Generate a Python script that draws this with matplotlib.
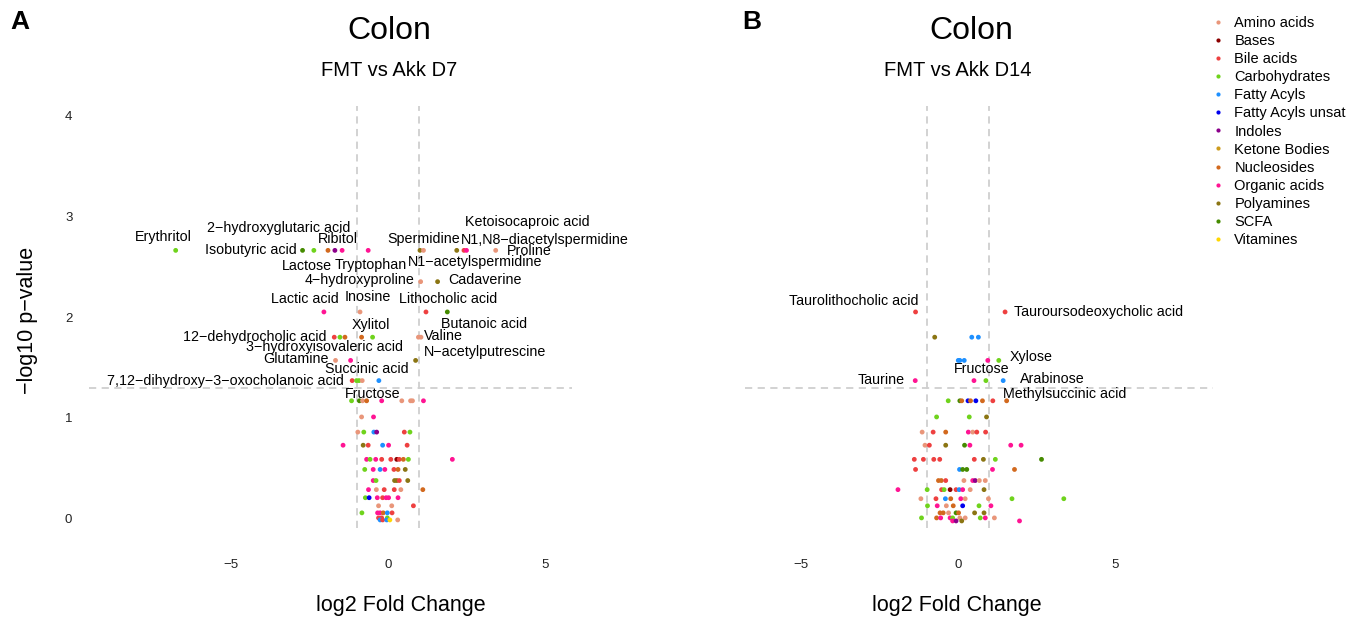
import matplotlib
matplotlib.use('Agg')
from matplotlib import pyplot as plt
from matplotlib.lines import Line2D

plt.rcParams['font.family'] = ['Liberation Sans', 'DejaVu Sans']

# metabolite classes and colours
classes = ['Amino acids', 'Bases', 'Bile acids', 'Carbohydrates', 'Fatty Acyls',
           'Fatty Acyls unsat', 'Indoles', 'Ketone Bodies', 'Nucleosides',
           'Organic acids', 'Polyamines', 'SCFA', 'Vitamines']
codes = ['AA', 'BA', 'BI', 'CA', 'FA', 'FU', 'IN', 'KB', 'NU', 'OA', 'PA', 'SC', 'VI']
colors = ['#E9967A', '#8B0000', '#EE4040', '#6FD31C', '#1E90FF', '#0000EE', '#8B008B',
          '#CD9B1D', '#D2691E', '#FF1493', '#8B7513', '#458B00', '#FFD700']
col = dict(zip(codes, colors))

# ---- panel A : FMT vs Akk D7 (log2FC, -log10 p, class)
a_x = [-6.76, -2.72, -2.36, -1.91, -1.69, -1.46, -0.63, 1.02, 1.13, 2.19, 2.42, 2.50, 3.43,
       1.04, 1.58,
       -2.04, -0.89, 1.21, 1.89,
       -1.71, -1.53, -1.37, -0.84, -0.49, 0.97, 1.05,
       -1.67, -1.19, 0.88,
       -1.14, -1.00, -0.92, -0.82, -0.29,
       -1.16, -0.91, -0.81, -0.68, -0.20, 0.44, 0.72, 0.78, 1.13,
       -0.84, -0.46,
       -0.96, -0.77, -0.45, -0.36, 0.52, 0.70,
       -1.43, -0.79, -0.63, -0.17, 0.02, 0.61,
       -0.68, -0.57, -0.39, -0.20, 0.09, 0.28, 0.36, 0.49, 0.65, 2.05,
       -0.74, -0.47, -0.25, -0.10, 0.19, 0.32, 0.55,
       -0.47, -0.38, 0.21, 0.28, 0.36, 0.63,
       -0.62, -0.37, -0.12, 0.20, 0.41, 1.11,
       -0.72, -0.60, -0.34, -0.17, -0.06, 0.02, 0.32,
       -0.30, 0.12, 0.81,
       -0.83, -0.33, -0.25, -0.15, -0.02, 0.13,
       -0.30, -0.20, -0.02,
       -0.25, -0.17, -0.04, 0.06, 0.31]
a_y = [2.66] * 13 + [2.35] * 2 + [2.05] * 4 + [1.80] * 7 + [1.57] * 3 + [1.37] * 5 + \
      [1.17] * 9 + [1.01] * 2 + [0.86] * 6 + [0.73] * 6 + [0.59] * 10 + [0.49] * 7 + \
      [0.38] * 6 + [0.29] * 6 + [0.21] * 7 + [0.13] * 3 + [0.06] * 6 + [0.01] * 3 + [-0.01] * 5
a_cls = ['CA', 'SC', 'CA', 'NU', 'IN', 'OA', 'OA', 'PA', 'AA', 'PA', 'BI', 'OA', 'AA',
         'AA', 'PA',
         'OA', 'AA', 'BI', 'SC',
         'BI', 'CA', 'NU', 'NU', 'CA', 'AA', 'AA',
         'AA', 'OA', 'PA',
         'BI', 'CA', 'CA', 'AA', 'FA',
         'CA', 'SC', 'AA', 'NU', 'OA', 'AA', 'AA', 'AA', 'OA',
         'AA', 'OA',
         'AA', 'CA', 'FA', 'IN', 'BI', 'CA',
         'OA', 'PA', 'BI', 'FA', 'OA', 'BI',
         'OA', 'CA', 'OA', 'BI', 'BI', 'BA', 'BI', 'NU', 'CA', 'OA',
         'CA', 'OA', 'FA', 'OA', 'BI', 'NU', 'PA',
         'OA', 'CA', 'PA', 'PA', 'BI', 'PA',
         'OA', 'AA', 'BI', 'BI', 'AA', 'NU',
         'CA', 'FU', 'OA', 'BI', 'OA', 'OA', 'OA',
         'AA', 'AA', 'BI',
         'CA', 'OA', 'OA', 'NU', 'FA', 'BI',
         'BI', 'BI', 'CA',
         'FA', 'BI', 'FA', 'VI', 'AA']

a_labels = ['Erythritol', '2\u2212hydroxyglutaric acid', 'Ribitol', 'Isobutyric acid',
            'Lactose', 'Tryptophan', 'Spermidine', 'Ketoisocaproic acid',
            'N1,N8\u2212diacetylspermidine', 'Proline', 'N1\u2212acetylspermidine',
            '4\u2212hydroxyproline', 'Cadaverine', 'Lactic acid', 'Inosine',
            'Lithocholic acid', 'Butanoic acid', 'Xylitol', '12\u2212dehydrocholic acid',
            'Valine', '3\u2212hydroxyisovaleric acid', 'N\u2212acetylputrescine', 'Glutamine',
            'Succinic acid', '7,12\u2212dihydroxy\u22123\u2212oxocholanoic acid', 'Fructose']
# where the repelled labels ended up (data units)
a_lab_pos = [(-7.16, 2.79), (-3.49, 2.88), (-1.61, 2.77), (-4.37, 2.66), (-2.57, 2.51),
             (-0.55, 2.52), (1.15, 2.77), (4.43, 2.94), (5.0, 2.76), (4.49, 2.65),
             (2.77, 2.54), (-0.89, 2.37), (3.09, 2.37), (-2.64, 2.18), (-0.63, 2.20),
             (1.92, 2.18), (3.07, 1.93), (-0.54, 1.92), (-4.24, 1.80), (1.78, 1.81),
             (-2.01, 1.70), (3.09, 1.65), (-2.94, 1.58), (-0.66, 1.48), (-5.19, 1.37),
             (-0.49, 1.24)]

# ---- panel B : FMT vs Akk D14
b_x = [-1.35, 1.50,
       -0.74, 0.44, 0.65,
       0.01, 0.06, 0.20, 0.95, 1.30,
       -1.36, 0.51, 0.89, 1.44,
       -0.31, 0.06, 0.12, 0.32, 0.40, 0.57, 0.78, 1.11, 1.55,
       -0.68, 0.36, 0.91,
       -1.14, -0.79, -0.39, 0.33, 0.47, 0.60, 0.88,
       -1.05, -0.91, -0.39, 0.21, 0.38, 1.68, 2.01,
       -1.39, -1.10, -0.77, -0.58, 0.52, 0.81, 1.19, 2.66,
       -1.35, 0.05, 0.15, 0.28, 1.10, 1.80,
       -0.62, -0.53, -0.39, 0.19, 0.47, 0.55, 0.68, 0.87,
       -1.91, -0.98, -0.52, -0.44, -0.25, -0.06, 0.04, 0.15, 0.39, 0.83,
       -1.18, -0.70, -0.40, -0.23, 0.09, 0.23, 0.97, 1.72, 3.37,
       -0.97, -0.66, -0.37, -0.15, 0.15, 0.67, 1.05,
       -0.57, -0.47, -0.30, -0.06, 0.02, 0.53, 0.83,
       -1.16, -0.68, -0.55, -0.25, -0.17, 0.06, 0.23, 0.71, 0.87, 1.16,
       -0.17, -0.06, 0.12, 1.96]
b_y = [2.05] * 2 + [1.80] * 3 + [1.57] * 5 + [1.37] * 4 + [1.17] * 9 + [1.01] * 3 + \
      [0.86] * 7 + [0.73] * 7 + [0.59] * 8 + [0.49] * 6 + [0.38] * 8 + [0.29] * 10 + \
      [0.20] * 9 + [0.13] * 7 + [0.06] * 7 + [0.01] * 10 + [-0.02] * 4
b_cls = ['BI', 'BI',
         'PA', 'FA', 'FA',
         'FA', 'FA', 'FA', 'OA', 'CA',
         'OA', 'OA', 'CA', 'FA',
         'CA', 'SC', 'NU', 'FU', 'NU', 'FU', 'NU', 'BI', 'NU',
         'CA', 'CA', 'PA',
         'AA', 'BI', 'NU', 'OA', 'AA', 'BI', 'BI',
         'AA', 'BI', 'PA', 'SC', 'OA', 'OA', 'OA',
         'BI', 'BI', 'BI', 'BI', 'BI', 'PA', 'CA', 'SC',
         'BI', 'FA', 'SC', 'SC', 'OA', 'NU',
         'NU', 'NU', 'BI', 'AA', 'OA', 'IN', 'AA', 'AA',
         'OA', 'CA', 'BI', 'CA', 'BA', 'BI', 'FA', 'OA', 'AA', 'PA',
         'AA', 'BI', 'FA', 'NU', 'OA', 'AA', 'AA', 'CA', 'CA',
         'CA', 'OA', 'AA', 'NU', 'FU', 'CA', 'OA',
         'NU', 'NU', 'AA', 'SC', 'NU', 'PA', 'PA',
         'CA', 'NU', 'OA', 'OA', 'CA', 'AA', 'AA', 'CA', 'OA', 'AA',
         'OA', 'IN', 'PA', 'OA']

b_labels = ['Taurolithocholic acid', 'Tauroursodeoxycholic acid', 'Xylose', 'Fructose',
            'Taurine', 'Arabinose', 'Methylsuccinic acid']
b_lab_pos = [(-3.33, 2.16), (4.47, 2.05), (2.32, 1.60), (0.75, 1.48),
             (-2.43, 1.38), (3.02, 1.39), (3.41, 1.24)]

W, H = 1359, 623
fig = plt.figure(figsize=(W / 100, H / 100), dpi=100)


def panel(rect, xs, ys, cl, labs, lpos, xlim, show_y):
    ax = fig.add_axes(rect)
    ax.axvline(-1, color='#CFCFCF', lw=1.3, ls=(0, (4, 3)), zorder=1)
    ax.axvline(1, color='#CFCFCF', lw=1.3, ls=(0, (4, 3)), zorder=1)
    ax.axhline(1.30103, color='#CFCFCF', lw=1.3, ls=(0, (4, 3)), zorder=1)
    ax.scatter(xs, ys, c=[col[c] for c in cl], s=12, linewidths=0, zorder=3)
    for t, (tx, ty) in zip(labs, lpos):
        ax.text(tx, ty, t, ha='center', va='center', fontsize=10.3, zorder=4)
    ax.set_xlim(*xlim)
    ax.set_ylim(-0.09, 4.09)
    ax.set_xticks([-5, 0, 5])
    ax.set_yticks([0, 1, 2, 3, 4])
    ax.tick_params(length=0, labelsize=9.5, colors='#222222')
    ax.tick_params(axis='x', pad=22)
    ax.tick_params(axis='y', pad=12)
    if not show_y:
        ax.set_yticklabels([])
    for s in ax.spines.values():
        s.set_visible(False)
    return ax


top = 1 - 528 / H
hgt = 422 / H
panel([89 / W, top, 483 / W, hgt], a_x, a_y, a_cls, a_labels, a_lab_pos, (-9.52, 5.86), True)
panel([745 / W, top, 468 / W, hgt], b_x, b_y, b_cls, b_labels, b_lab_pos, (-6.78, 8.12), False)

# titles and axis titles
fig.text(10 / W, 1 - 22 / H, 'A', fontsize=19, fontweight='bold', ha='left', va='center')
fig.text(742 / W, 1 - 22 / H, 'B', fontsize=19, fontweight='bold', ha='left', va='center')
fig.text(389 / W, 1 - 31 / H, 'Colon', fontsize=23, ha='center', va='center')
fig.text(971 / W, 1 - 31 / H, 'Colon', fontsize=23, ha='center', va='center')
fig.text(389 / W, 1 - 71 / H, 'FMT vs Akk D7', fontsize=14.5, ha='center', va='center')
fig.text(958 / W, 1 - 71 / H, 'FMT vs Akk D14', fontsize=14.5, ha='center', va='center')
fig.text(401 / W, 1 - 606 / H, 'log2 Fold Change', fontsize=15.5, ha='center', va='center')
fig.text(957 / W, 1 - 606 / H, 'log2 Fold Change', fontsize=15.5, ha='center', va='center')
fig.text(28 / W, 1 - 320 / H, '\u2212log10 p\u2212value', fontsize=15.5, rotation=90,
         ha='center', va='center')

handles = [Line2D([], [], ls='', marker='o', ms=3.0, mec='none', mfc=c) for c in colors]
fig.legend(handles, classes, loc='upper left', bbox_to_anchor=(1211 / W, 1 - 16 / H),
           frameon=False, fontsize=10.5, labelspacing=0.28, handlelength=1.0,
           handletextpad=0.6, borderpad=0, borderaxespad=0)

fig.savefig('out.png', dpi=100)
